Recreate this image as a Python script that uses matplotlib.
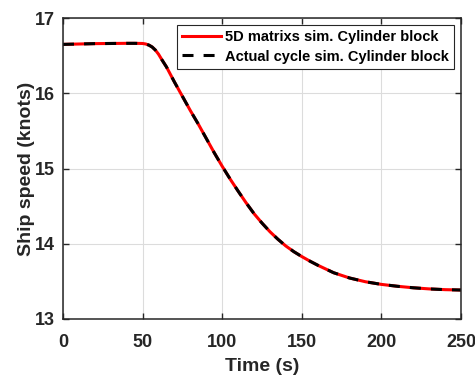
import numpy as np
import matplotlib
matplotlib.use("Agg")
import matplotlib.pyplot as plt

# ship speed response (knots) over time (s)
time_s = [0, 10, 20, 30, 40, 45, 50, 52, 54, 56, 58, 60, 62, 65, 70, 75, 80, 85,
          90, 95, 100, 105, 110, 115, 120, 125, 130, 135, 140, 145, 150, 155, 160,
          170, 180, 190, 200, 210, 220, 230, 240, 250]
speed_5d = [16.650, 16.655, 16.660, 16.662, 16.664, 16.664, 16.662, 16.655,
            16.640, 16.615, 16.575, 16.520, 16.450, 16.350, 16.150, 15.960,
            15.770, 15.590, 15.400, 15.210, 15.030, 14.860, 14.700, 14.545,
            14.400, 14.275, 14.160, 14.060, 13.970, 13.895, 13.830, 13.770, 13.715,
            13.615, 13.545, 13.495, 13.460, 13.435, 13.415, 13.400, 13.390, 13.385]
speed_cycle = list(speed_5d)

labels = ["5D matrixs sim. Cylinder block", "Actual cycle sim. Cylinder block"]
xticks = [0, 50, 100, 150, 200, 250]
yticks = [13, 14, 15, 16, 17]

plt.rcParams['font.family'] = ['Liberation Sans', 'DejaVu Sans']
plt.rcParams['font.weight'] = 'bold'

fig = plt.figure(figsize=(4.75, 3.76), dpi=100)
ax = fig.add_axes([0.1326, 0.1516, 0.8379, 0.8004])

ax.plot(time_s, speed_5d, color='#ff0000', lw=2.2, label=labels[0])
ax.plot(time_s, speed_cycle, color='black', lw=2.2, dashes=(3.6, 3.3), label=labels[1])

ax.set_xlim(0, 250)
ax.set_ylim(13, 17)
ax.set_xticks(xticks)
ax.set_yticks(yticks)
ax.grid(True, color='#dcdcdc', lw=0.8)
ax.tick_params(direction='in', top=True, right=True, length=4, width=1,
               labelsize=13, colors='#262626', pad=6)
ax.tick_params(axis='x', pad=10.5)
for s in ax.spines.values():
    s.set_linewidth(1.1)
    s.set_color('#262626')

ax.set_xlabel('Time (s)', fontsize=14, fontweight='bold', color='#262626', labelpad=5)
ax.set_ylabel('Ship speed (knots)', fontsize=14, fontweight='bold', color='#262626', labelpad=0)

leg = ax.legend(loc='upper right', fontsize=10.5, handlelength=2.7, fancybox=False,
                edgecolor='#262626', framealpha=1, borderaxespad=0.45,
                borderpad=0.35, labelspacing=0.4, handletextpad=0.3)
leg.get_frame().set_linewidth(0.8)
for t in leg.get_texts():
    t.set_fontweight('bold')

fig.savefig('out.png', dpi=100)
